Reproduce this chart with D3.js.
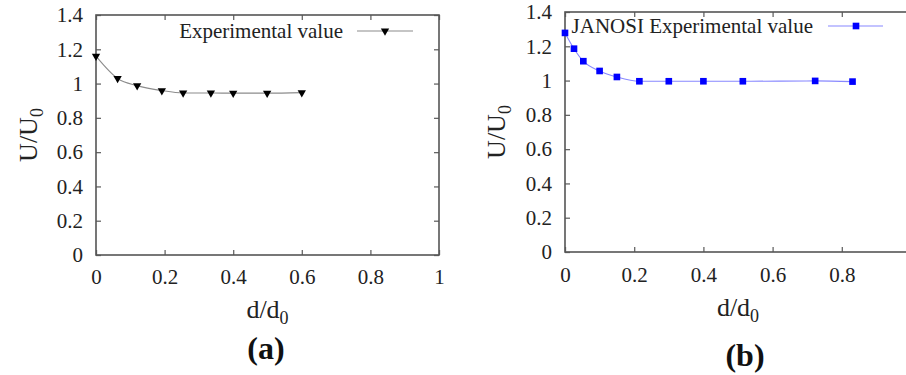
<!DOCTYPE html>
<html>
<head>
<meta charset="utf-8">
<script src="https://cdn.jsdelivr.net/npm/d3@7"></script>
<style>
  body { margin: 0; background: #fff; }
  svg { display: block; }
  svg text { font-family: "Liberation Serif", "DejaVu Serif", serif; }
</style>
</head>
<body>
<svg id="chart" width="906" height="375"></svg>
<script>
// panel (a) data
const a_x = [0, 0.063, 0.12, 0.192, 0.254, 0.335, 0.40, 0.499, 0.60];
const a_y = [1.16, 1.03, 0.988, 0.959, 0.945, 0.945, 0.944, 0.944, 0.947];
// panel (b) data
const b_x = [0, 0.026, 0.053, 0.10, 0.15, 0.215, 0.30, 0.40, 0.514, 0.723, 0.831];
const b_y = [1.278, 1.186, 1.113, 1.056, 1.021, 0.996, 0.996, 0.996, 0.996, 0.998, 0.994];

const x_ticks = [0, 0.2, 0.4, 0.6, 0.8, 1];
const y_ticks = [0, 0.2, 0.4, 0.6, 0.8, 1, 1.2, 1.4];

const W = 906;

const panels = [
  {label: "(a)", legend: "Experimental value", xs: a_x, ys: a_y,
   left: 96, right: 439, top: 15, bottom: 255,
   line: "#8c8c8c", mark: "#000", symbol: "tri",
   legX: 343, legY: 31, legLine: [357, 413], legMark: 385,
   yTitleX: 37, xTitleY: 318, labelX: 266, labelY: 359, xPad: 14},
  {label: "(b)", legend: "JANOSI Experimental value", xs: b_x, ys: b_y,
   left: 565, right: 911, top: 12, bottom: 252,
   line: "#8888ff", mark: "#0000ff", symbol: "sq",
   legX: 813, legY: 26, legLine: [828, 883], legMark: 856,
   yTitleX: 505, xTitleY: 316, labelX: 745, labelY: 366, xPad: 15}
];

const svg = d3.select("#chart");

panels.forEach(function(p) {
  const x = d3.scaleLinear().domain([0, 1]).range([p.left, p.right]);
  const y = d3.scaleLinear().domain([0, 1.4]).range([p.bottom, p.top]);
  const g = svg.append("g");

  // labels that would fall past the page edge are left blank
  const fmtX = d => (x(d) + 6 > W ? "" : d3.format("~g")(d));
  const fmtY = d => d3.format("~g")(d);

  // axes with inward ticks (gnuplot style, mirrored)
  const bottom = g.append("g").attr("transform", "translate(0," + p.bottom + ")")
    .call(d3.axisBottom(x).tickValues(x_ticks).tickFormat(fmtX).tickSizeInner(-5).tickSizeOuter(0).tickPadding(p.xPad));
  const top = g.append("g").attr("transform", "translate(0," + p.top + ")")
    .call(d3.axisTop(x).tickValues(x_ticks).tickFormat("").tickSizeInner(-5).tickSizeOuter(0));
  const left = g.append("g").attr("transform", "translate(" + p.left + ",0)")
    .call(d3.axisLeft(y).tickValues(y_ticks).tickFormat(fmtY).tickSizeInner(-5).tickSizeOuter(0).tickPadding(13));
  const right = g.append("g").attr("transform", "translate(" + p.right + ",0)")
    .call(d3.axisRight(y).tickValues(y_ticks).tickFormat("").tickSizeInner(-5).tickSizeOuter(0));

  [bottom, top, left, right].forEach(function(ax) {
    ax.attr("font-family", "Liberation Serif").attr("font-size", 21);
    ax.select(".domain").remove();
    ax.selectAll("line").attr("stroke", "#666").attr("stroke-width", 1.3);
    ax.selectAll("text").attr("fill", "#222");
  });

  g.append("rect")
    .attr("x", p.left).attr("y", p.top)
    .attr("width", p.right - p.left).attr("height", p.bottom - p.top)
    .attr("fill", "none").attr("stroke", "#555").attr("stroke-width", 1.6);

  // series
  const pts = p.xs.map((v, i) => [v, p.ys[i]]);
  const line = d3.line().x(d => x(d[0])).y(d => y(d[1])).curve(d3.curveMonotoneX);
  g.append("path").attr("d", line(pts))
    .attr("fill", "none").attr("stroke", p.line).attr("stroke-width", 1.1);

  const sym = p.symbol == "tri"
    ? d3.symbol().type(d3.symbolTriangle).size(30)
    : d3.symbol().type(d3.symbolSquare).size(44);
  const rot = p.symbol == "tri" ? " rotate(180)" : "";

  g.selectAll(".mk").data(pts).enter().append("path")
    .attr("class", "mk")
    .attr("d", sym)
    .attr("transform", d => "translate(" + x(d[0]) + "," + y(d[1]) + ")" + rot)
    .attr("fill", p.mark);

  // legend
  g.append("text").attr("x", p.legX).attr("y", p.legY + 7)
    .attr("text-anchor", "end").attr("font-size", 21).attr("fill", "#222")
    .text(p.legend);
  g.append("line").attr("x1", p.legLine[0]).attr("x2", p.legLine[1])
    .attr("y1", p.legY).attr("y2", p.legY)
    .attr("stroke", p.line).attr("stroke-width", 1.1);
  g.append("path").attr("d", sym)
    .attr("transform", "translate(" + p.legMark + "," + p.legY + ")" + rot)
    .attr("fill", p.mark);

  // axis titles
  const xt = g.append("text").attr("x", (p.left + p.right) / 2).attr("y", p.xTitleY)
    .attr("text-anchor", "middle").attr("font-size", 26).attr("fill", "#222");
  xt.append("tspan").text("d/d");
  xt.append("tspan").attr("font-size", 18).attr("dy", 6).text("0");

  const yt = g.append("text")
    .attr("transform", "translate(" + p.yTitleX + "," + ((p.top + p.bottom) / 2) + ") rotate(-90)")
    .attr("text-anchor", "middle").attr("font-size", 26).attr("fill", "#222");
  yt.append("tspan").text("U/U");
  yt.append("tspan").attr("font-size", 18).attr("dy", 6).text("0");

  // panel label
  g.append("text").attr("x", p.labelX).attr("y", p.labelY)
    .attr("text-anchor", "middle").attr("font-size", 32).attr("font-weight", "bold")
    .attr("fill", "#111").text(p.label);
});
</script>
</body>
</html>
